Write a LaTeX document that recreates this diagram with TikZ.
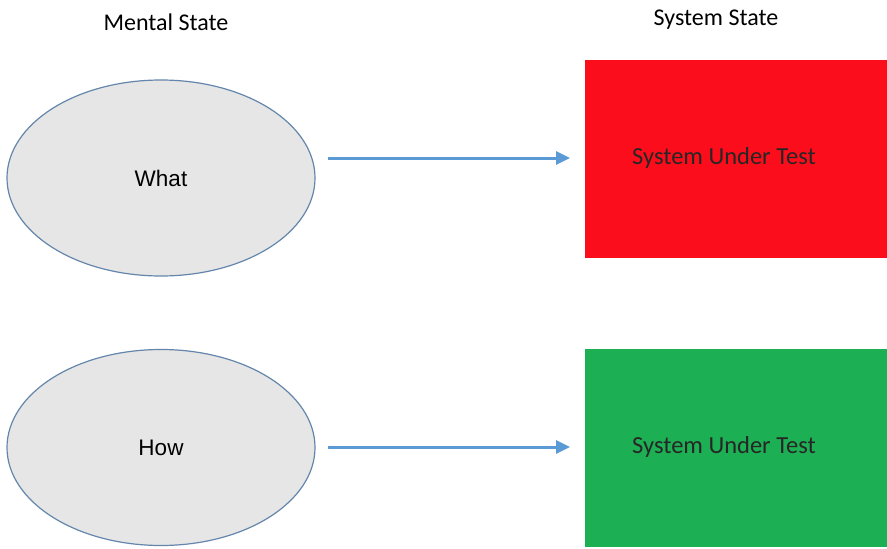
\documentclass[tikz,border=0pt]{standalone}
\usepackage{fontspec}
\setmainfont{Carlito}
\newfontfamily\arialfont{Liberation Sans}
\usetikzlibrary{shapes.geometric,arrows.meta}
\definecolor{ellfill}{HTML}{E6E6E6}
\definecolor{elldraw}{HTML}{6486AC}
\definecolor{arrowblue}{HTML}{5B9BD5}
\definecolor{sutred}{HTML}{FC0D1B}
\definecolor{sutgreen}{HTML}{1DAF53}
\tikzset{
  mind/.style={ellipse, draw=elldraw, line width=1.2pt, fill=ellfill,
    minimum width=308pt, minimum height=196pt, inner sep=0pt,
    font=\arialfont\fontsize{22.5}{27}\selectfont},
  sut/.style={rectangle, draw=none, minimum width=302pt, minimum height=198pt,
    inner sep=0pt},
  sutlabel/.style={font=\fontsize{24.5}{29}\selectfont, inner sep=0pt,
    text=black!85},
  heading/.style={font=\fontsize{24}{29}\selectfont, inner sep=0pt},
  flow/.style={draw=arrowblue, line width=3pt,
    -{Triangle[length=14pt,width=13pt]}, shorten >=2pt}
}
\begin{document}
\begin{tikzpicture}[x=1pt,y=-1pt]
\useasboundingbox (0,0) rectangle (887,549);
\fill[white] (0,0) rectangle (887,549);

% column headings
\node[heading] (mental) at (166,22) {Mental State};
\node[heading] (system) at (716,20) {System State};

% mental states
\node[mind] (what) at (161,178) {What};
\node[mind] (how) at (161,447.5) {How};

% system states
\node[sut, fill=sutred] (sut1) at (736,159) {};
\node[sutlabel] (lbl1) at (724,158) {System Under Test};
\node[sut, fill=sutgreen] (sut2) at (736,448) {};
\node[sutlabel] (lbl2) at (724,447) {System Under Test};

% mappings
\coordinate (a1s) at (328,158);
\coordinate (a1e) at (572,158);
\coordinate (a2s) at (328,447);
\coordinate (a2e) at (572,447);
\draw[flow] (a1s) -- (a1e);
\draw[flow] (a2s) -- (a2e);
\end{tikzpicture}
\end{document}
